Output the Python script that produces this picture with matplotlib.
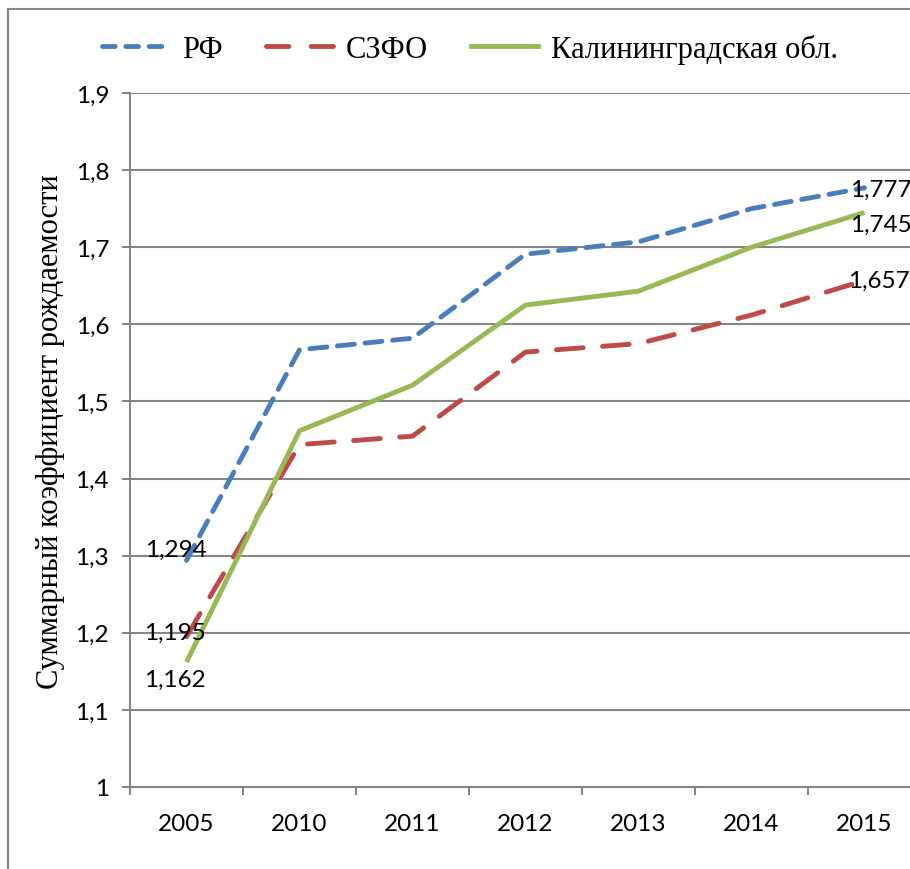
import matplotlib.pyplot as plt
from matplotlib.patches import Rectangle
from matplotlib.lines import Line2D

# Данные
years = ['2005', '2010', '2011', '2012', '2013', '2014', '2015']
rf = [1.294, 1.567, 1.582, 1.691, 1.707, 1.750, 1.777]
szfo = [1.195, 1.444, 1.455, 1.564, 1.575, 1.612, 1.657]
kaliningrad = [1.162, 1.462, 1.521, 1.625, 1.643, 1.700, 1.745]
y_ticks = [1.0, 1.1, 1.2, 1.3, 1.4, 1.5, 1.6, 1.7, 1.8, 1.9]

c_rf = '#4A7EBB'
c_szfo = '#BE4B48'
c_kal = '#98B954'
grey = '#868686'

fig = plt.figure(figsize=(9.10, 8.70), dpi=100)
ax = fig.add_axes([130 / 910, 1 - 788 / 870, 791 / 910, 694 / 870])

x = list(range(len(years)))
ax.plot(x, rf, color=c_rf, lw=3.5, dashes=(3.5, 2.2), dash_capstyle='round', zorder=3)
ax.plot(x, szfo, color=c_szfo, lw=3.5, dashes=(5.5, 4.0), dash_capstyle='round', zorder=3)
ax.plot(x, kaliningrad, color=c_kal, lw=3.5, solid_capstyle='butt', zorder=4)

ax.set_xlim(-0.5, len(years) - 0.5)
ax.set_ylim(1.0, 1.9)
ax.set_yticks(y_ticks)
ax.set_yticklabels([('%g' % v).replace('.', ',') for v in y_ticks])
ax.set_xticks(x)
ax.set_xticklabels(years)
ax.set_xticks([i - 0.5 for i in range(len(years) + 1)], minor=True)

for lab in ax.get_xticklabels() + ax.get_yticklabels():
    lab.set_fontfamily('Lato')
    lab.set_fontsize(17.5)

ax.grid(axis='y', color=grey, lw=1.5, zorder=0)
for s in ['top', 'right']:
    ax.spines[s].set_visible(False)
for s in ['left', 'bottom']:
    ax.spines[s].set_color(grey)
    ax.spines[s].set_linewidth(1.5)
ax.tick_params(axis='x', which='major', length=0, pad=19)
ax.tick_params(axis='x', which='minor', length=6, width=1.5, color=grey)
ax.tick_params(axis='y', length=6, width=1.5, color=grey, pad=9)

ax.set_ylabel('Суммарный коэффициент рождаемости', fontfamily='Liberation Serif', fontsize=22)
ax.yaxis.set_label_coords(-0.082, 0.513)

# Подписи значений
labels = [
    (0, rf[0], -11, 11),
    (0, szfo[0], -12, 4),
    (0, kaliningrad[0], -12, -17),
    (6, rf[6], 16, -1),
    (6, kaliningrad[6], 16, -12),
    (6, szfo[6], 14, 0),
]
for xi, yi, dx, dy in labels:
    ax.annotate(('%.3f' % yi).replace('.', ','), (xi, yi), xytext=(dx, dy),
                textcoords='offset pixels', ha='center', va='center',
                fontfamily='Lato', fontsize=17.5, zorder=6)

# Легенда
handles = [
    Line2D([], [], color=c_rf, lw=3.5, dashes=(2.6, 2.2), dash_capstyle='round'),
    Line2D([], [], color=c_szfo, lw=3.5, dashes=(4.6, 4.6), dash_capstyle='round'),
    Line2D([], [], color=c_kal, lw=3.5),
]
fig.legend(handles, ['РФ', 'СЗФО', 'Калининградская обл.'], loc='center',
           bbox_to_anchor=(470 / 910, 1 - 50 / 870), ncol=3, frameon=False,
           prop={'family': 'Liberation Serif', 'size': 22}, handlelength=2.2,
           handletextpad=0.43, columnspacing=1.4)

# Рамка
fig.patches.append(Rectangle((8 / 910, -0.1), 1.2, 0.1 + 1 - 10 / 870,
                             transform=fig.transFigure, fill=False,
                             edgecolor=grey, lw=1.5))

fig.savefig('out.png', dpi=100)
